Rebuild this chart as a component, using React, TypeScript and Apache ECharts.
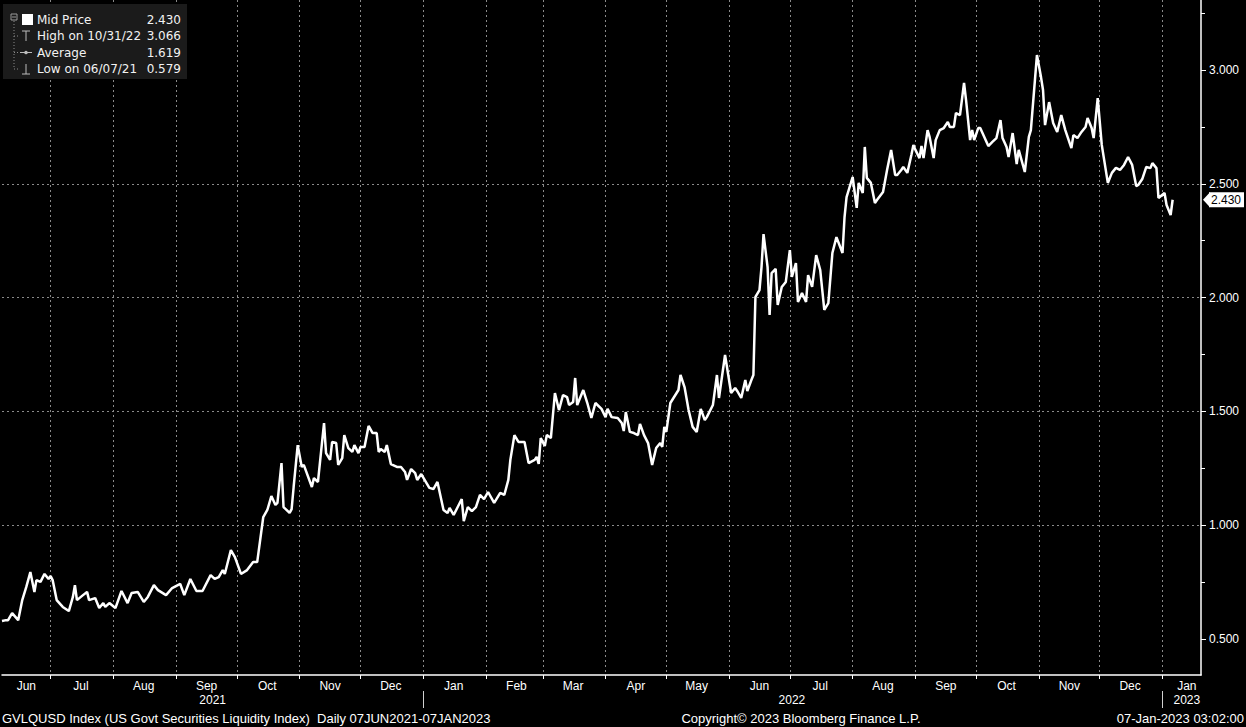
import React, { useEffect, useRef } from 'react';
import * as echarts from 'echarts';

const AXIS_START = '2021-06-07';
const AXIS_END = '2023-01-20';

const dates2021 = [
  '2021-06-07', '2021-06-09', '2021-06-10', '2021-06-12', '2021-06-15', '2021-06-17', '2021-06-19', '2021-06-21', '2021-06-23', '2021-06-24', '2021-06-26', '2021-06-28', '2021-06-30',
  '2021-07-01', '2021-07-02', '2021-07-04', '2021-07-07', '2021-07-10', '2021-07-12', '2021-07-13', '2021-07-14', '2021-07-17', '2021-07-19', '2021-07-20', '2021-07-23', '2021-07-25', '2021-07-27', '2021-07-28', '2021-07-30',
  '2021-08-02', '2021-08-05', '2021-08-08', '2021-08-10', '2021-08-13', '2021-08-16', '2021-08-18', '2021-08-21', '2021-08-23', '2021-08-27', '2021-08-30',
  '2021-09-03', '2021-09-05', '2021-09-08', '2021-09-11', '2021-09-14', '2021-09-18', '2021-09-20', '2021-09-22', '2021-09-24', '2021-09-25', '2021-09-28', '2021-09-30',
  '2021-10-03', '2021-10-06', '2021-10-09', '2021-10-11', '2021-10-14', '2021-10-16', '2021-10-18', '2021-10-20', '2021-10-21', '2021-10-23', '2021-10-24', '2021-10-27', '2021-10-28', '2021-10-29', '2021-10-31',
  '2021-11-02', '2021-11-03', '2021-11-07', '2021-11-08', '2021-11-10', '2021-11-13', '2021-11-14', '2021-11-16', '2021-11-17', '2021-11-19', '2021-11-20', '2021-11-22', '2021-11-23', '2021-11-25', '2021-11-27', '2021-11-28', '2021-11-30',
  '2021-12-01', '2021-12-03', '2021-12-05', '2021-12-07', '2021-12-09', '2021-12-10', '2021-12-11', '2021-12-13', '2021-12-14', '2021-12-16', '2021-12-19', '2021-12-21', '2021-12-23', '2021-12-24', '2021-12-26', '2021-12-28', '2021-12-29', '2021-12-31',
];
const values2021 = [
  0.579, 0.583, 0.583, 0.614, 0.583, 0.671, 0.729, 0.794, 0.707, 0.759, 0.751, 0.786, 0.764,
  0.777, 0.759, 0.671, 0.641, 0.623, 0.685, 0.737, 0.671, 0.693, 0.707, 0.671, 0.680, 0.636, 0.658, 0.641, 0.658,
  0.636, 0.711, 0.658, 0.702, 0.707, 0.663, 0.685, 0.737, 0.715, 0.693, 0.724,
  0.742, 0.693, 0.764, 0.711, 0.711, 0.781, 0.764, 0.772, 0.803, 0.786, 0.891, 0.860,
  0.786, 0.803, 0.838, 0.838, 1.036, 1.067, 1.128, 1.089, 1.098, 1.273, 1.080, 1.054, 1.071, 1.168, 1.352,
  1.256, 1.265, 1.168, 1.207, 1.190, 1.449, 1.317, 1.287, 1.366, 1.361, 1.265, 1.295, 1.396, 1.339, 1.322, 1.352, 1.317,
  1.344, 1.344, 1.436, 1.405, 1.405, 1.322, 1.335, 1.322, 1.352, 1.269, 1.256, 1.256, 1.234, 1.199, 1.247, 1.229, 1.199, 1.225,
];

const dates2022 = [
  '2022-01-04', '2022-01-06', '2022-01-08', '2022-01-11', '2022-01-13', '2022-01-14', '2022-01-16', '2022-01-18', '2022-01-20', '2022-01-21', '2022-01-23', '2022-01-25', '2022-01-27', '2022-01-29', '2022-01-31',
  '2022-02-02', '2022-02-05', '2022-02-08', '2022-02-10', '2022-02-12', '2022-02-13', '2022-02-15', '2022-02-17', '2022-02-20', '2022-02-22', '2022-02-25', '2022-02-26', '2022-02-27', '2022-02-28',
  '2022-03-02', '2022-03-03', '2022-03-05', '2022-03-07', '2022-03-09', '2022-03-11', '2022-03-13', '2022-03-14', '2022-03-16', '2022-03-17', '2022-03-18', '2022-03-21', '2022-03-23', '2022-03-25', '2022-03-27', '2022-03-30',
  '2022-04-01', '2022-04-02', '2022-04-04', '2022-04-07', '2022-04-09', '2022-04-10', '2022-04-11', '2022-04-13', '2022-04-15', '2022-04-17', '2022-04-18', '2022-04-20', '2022-04-22', '2022-04-24', '2022-04-26', '2022-04-28', '2022-04-29', '2022-04-30',
  '2022-05-01', '2022-05-03', '2022-05-07', '2022-05-08', '2022-05-10', '2022-05-12', '2022-05-14', '2022-05-16', '2022-05-18', '2022-05-20', '2022-05-21', '2022-05-24', '2022-05-26', '2022-05-27', '2022-05-30',
  '2022-06-02', '2022-06-04', '2022-06-05', '2022-06-07', '2022-06-09', '2022-06-10', '2022-06-12', '2022-06-13', '2022-06-14', '2022-06-16', '2022-06-17', '2022-06-18', '2022-06-20', '2022-06-21', '2022-06-22', '2022-06-24', '2022-06-25', '2022-06-27', '2022-06-29',
  '2022-07-01', '2022-07-02', '2022-07-04', '2022-07-05', '2022-07-07', '2022-07-09', '2022-07-10', '2022-07-12', '2022-07-14', '2022-07-16', '2022-07-18', '2022-07-20', '2022-07-22', '2022-07-24', '2022-07-27', '2022-07-28', '2022-07-29',
  '2022-08-01', '2022-08-03', '2022-08-04', '2022-08-06', '2022-08-07', '2022-08-08', '2022-08-10', '2022-08-12', '2022-08-13', '2022-08-16', '2022-08-18', '2022-08-20', '2022-08-22', '2022-08-23', '2022-08-25', '2022-08-26', '2022-08-28', '2022-08-30', '2022-08-31',
  '2022-09-01', '2022-09-03', '2022-09-04', '2022-09-05', '2022-09-07', '2022-09-08', '2022-09-10', '2022-09-11', '2022-09-13', '2022-09-15', '2022-09-17', '2022-09-18', '2022-09-20', '2022-09-21', '2022-09-23', '2022-09-25', '2022-09-26', '2022-09-28', '2022-09-29', '2022-09-30',
  '2022-10-02', '2022-10-03', '2022-10-07', '2022-10-09', '2022-10-11', '2022-10-13', '2022-10-14', '2022-10-16', '2022-10-17', '2022-10-19', '2022-10-21', '2022-10-22', '2022-10-25', '2022-10-27', '2022-10-28', '2022-10-30', '2022-10-31',
  '2022-11-02', '2022-11-03', '2022-11-04', '2022-11-06', '2022-11-08', '2022-11-10', '2022-11-12', '2022-11-14', '2022-11-17', '2022-11-18', '2022-11-20', '2022-11-22', '2022-11-24', '2022-11-25', '2022-11-27', '2022-11-28', '2022-11-30',
  '2022-12-02', '2022-12-05', '2022-12-07', '2022-12-09', '2022-12-11', '2022-12-13', '2022-12-15', '2022-12-17', '2022-12-19', '2022-12-20', '2022-12-22', '2022-12-24', '2022-12-26', '2022-12-27', '2022-12-29', '2022-12-30',
];
const values2022 = [
  1.164, 1.159, 1.190, 1.067, 1.054, 1.076, 1.045, 1.080, 1.115, 1.018, 1.080, 1.062, 1.080, 1.133, 1.115,
  1.146, 1.098, 1.142, 1.133, 1.199, 1.287, 1.396, 1.366, 1.366, 1.273, 1.287, 1.300, 1.269, 1.383,
  1.348, 1.396, 1.383, 1.581, 1.506, 1.572, 1.563, 1.528, 1.541, 1.647, 1.528, 1.594, 1.537, 1.471, 1.537, 1.511,
  1.475, 1.511, 1.475, 1.471, 1.449, 1.414, 1.497, 1.410, 1.405, 1.396, 1.445, 1.396, 1.361, 1.265, 1.339, 1.361, 1.344, 1.432,
  1.410, 1.537, 1.594, 1.660, 1.607, 1.506, 1.432, 1.410, 1.511, 1.462, 1.475, 1.528, 1.660, 1.559, 1.748,
  1.581, 1.603, 1.590, 1.559, 1.638, 1.590, 1.638, 1.660, 2.003, 2.033, 2.134, 2.279, 2.134, 1.924, 2.108, 2.126, 1.968, 2.047, 2.069,
  2.209, 2.091, 2.152, 1.981, 2.020, 1.981, 2.099, 2.047, 2.187, 2.121, 1.946, 1.976, 2.196, 2.266, 2.196, 2.354, 2.442,
  2.530, 2.394, 2.504, 2.460, 2.662, 2.526, 2.504, 2.416, 2.429, 2.464, 2.561, 2.649, 2.539, 2.539, 2.561, 2.574, 2.548, 2.627, 2.671,
  2.649, 2.613, 2.666, 2.613, 2.736, 2.706, 2.613, 2.692, 2.736, 2.745, 2.772, 2.750, 2.750, 2.811, 2.802, 2.943, 2.868, 2.692, 2.736, 2.692,
  2.745, 2.745, 2.666, 2.684, 2.701, 2.780, 2.701, 2.662, 2.618, 2.723, 2.587, 2.649, 2.552, 2.706, 2.736, 2.956, 3.066,
  2.969, 2.912, 2.758, 2.859, 2.767, 2.728, 2.802, 2.736, 2.657, 2.714, 2.701, 2.728, 2.750, 2.789, 2.745, 2.701, 2.877,
  2.671, 2.504, 2.548, 2.570, 2.561, 2.583, 2.618, 2.583, 2.490, 2.495, 2.521, 2.574, 2.569, 2.591, 2.569, 2.438,
];

const dates2023 = ['2023-01-02', '2023-01-03', '2023-01-05', '2023-01-06'];
const values2023 = [2.460, 2.407, 2.363, 2.430];

const Y_MIN = 0.342;
const Y_MAX = 3.3076;
const yTicks = [0.5, 1.0, 1.5, 2.0, 2.5, 3.0];
const yMinorTicks = [0.75, 1.25, 1.75, 2.25, 2.75, 3.25];

const MONTHS = ['Jan', 'Feb', 'Mar', 'Apr', 'May', 'Jun', 'Jul', 'Aug', 'Sep', 'Oct', 'Nov', 'Dec'];
const FIRST_MONTH_LABEL = '2021-06-19';
const LAST_MONTH_LABEL = '2023-01-13';
const yearLabels: Record<string, string> = { '2021-09-19': '2021', '2022-07-02': '2022', '2023-01-13': '2023' };

const legendLabels = ['Mid Price', 'High on 10/31/22', 'Average', 'Low on 06/07/21'];
const legendValues = ['2.430', '3.066', '1.619', '0.579'];
const LAST_PRICE = 2.43;
const LAST_PRICE_TEXT = '2.430';

const footerLeft = 'GVLQUSD Index (US Govt Securities Liquidity Index)  Daily 07JUN2021-07JAN2023';
const footerCenter = 'Copyright\u00A9 2023 Bloomberg Finance L.P.';
const footerRight = '07-Jan-2023 03:02:00';

const AX_FONT = '"Liberation Sans", Arial, sans-serif';
const LEG_FONT = '"DejaVu Sans", sans-serif';

function buildDays(start: string, end: string): string[] {
  const out: string[] = [];
  const d = new Date(start + 'T00:00:00Z');
  const e = new Date(end + 'T00:00:00Z');
  while (d.getTime() <= e.getTime()) {
    out.push(d.toISOString().slice(0, 10));
    d.setUTCDate(d.getUTCDate() + 1);
  }
  return out;
}

function isMonthLabel(s: string): boolean {
  if (s === FIRST_MONTH_LABEL || s === LAST_MONTH_LABEL) return true;
  if (s.startsWith('2021-06') || s.startsWith('2023-01')) return false;
  return s.endsWith('-16');
}

function txt(x: number, y: number, text: string, font: string, align: string, color = '#ffffff') {
  return {
    type: 'text',
    x,
    y,
    silent: true,
    style: {
      text,
      font,
      fill: color,
      align,
      textAlign: align,
      verticalAlign: 'middle',
      textVerticalAlign: 'middle',
    },
  };
}

function line(x1: number, y1: number, x2: number, y2: number, color: string, dash?: number[]) {
  return {
    type: 'line',
    silent: true,
    shape: { x1, y1, x2, y2 },
    style: { stroke: color, lineWidth: 1, lineDash: dash },
  };
}

export default function App() {
  const ref = useRef<HTMLDivElement>(null);

  useEffect(() => {
    if (!ref.current) return;
    const chart = echarts.init(ref.current, undefined, { renderer: 'svg' });

    const days = buildDays(AXIS_START, AXIS_END);
    const priceMap = new Map<string, number>();
    [[dates2021, values2021], [dates2022, values2022], [dates2023, values2023]].forEach(([ds, vs]: any) => {
      ds.forEach((d: string, i: number) => priceMap.set(d, vs[i]));
    });
    const seriesData = days.map((d) => (priceMap.has(d) ? priceMap.get(d)! : null));

    const gridLine = { color: '#8a8a8a', type: [2, 3] as number[], width: 1 };

    chart.setOption({
      animation: false,
      backgroundColor: '#000000',
      grid: { left: 2, right: 45, top: 0, bottom: 52, containLabel: false },
      xAxis: [
        {
          type: 'category',
          data: days,
          boundaryGap: false,
          axisLine: { show: true, lineStyle: { color: '#ffffff', width: 1.5 } },
          axisTick: {
            show: true,
            interval: (i: number) => days[i].endsWith('-01'),
            length: 4,
            lineStyle: { color: '#ffffff' },
          },
          axisLabel: {
            show: true,
            interval: (i: number) => isMonthLabel(days[i]),
            formatter: (v: string) => MONTHS[parseInt(v.slice(5, 7), 10) - 1],
            color: '#ffffff',
            fontSize: 12,
            fontFamily: AX_FONT,
            margin: 5,
          },
          splitLine: {
            show: true,
            interval: (i: number) => days[i].endsWith('-01'),
            lineStyle: gridLine,
          },
        },
        {
          type: 'category',
          data: days,
          boundaryGap: false,
          position: 'bottom',
          offset: 16,
          axisLine: { show: false },
          axisTick: {
            show: true,
            interval: (i: number) => days[i].endsWith('-01-01'),
            length: 17,
            lineStyle: { color: '#d0d0d0' },
          },
          axisLabel: {
            show: true,
            interval: (i: number) => !!yearLabels[days[i]],
            formatter: (v: string) => yearLabels[v] || '',
            color: '#ffffff',
            fontSize: 12,
            fontFamily: AX_FONT,
            margin: 3,
          },
          splitLine: { show: false },
        },
      ],
      yAxis: [
        {
          type: 'value',
          position: 'right',
          min: Y_MIN,
          max: Y_MAX,
          axisLine: { show: true, lineStyle: { color: '#ffffff', width: 1.5 } },
          axisTick: { show: true, customValues: yTicks, length: 5, lineStyle: { color: '#ffffff' } },
          axisLabel: {
            customValues: yTicks,
            formatter: (v: number) => v.toFixed(3),
            color: '#ffffff',
            fontSize: 12,
            fontFamily: AX_FONT,
            margin: 8,
          },
          splitLine: { show: true, lineStyle: gridLine, showMinLine: false, showMaxLine: false },
        },
        {
          type: 'value',
          position: 'right',
          min: Y_MIN,
          max: Y_MAX,
          axisLine: { show: false },
          axisTick: { show: true, customValues: yMinorTicks, length: 4, lineStyle: { color: '#ffffff' } },
          axisLabel: { show: false },
          splitLine: { show: false },
        },
      ],
      series: [
        {
          type: 'line',
          name: 'Mid Price',
          xAxisIndex: 0,
          yAxisIndex: 0,
          data: seriesData,
          connectNulls: true,
          showSymbol: false,
          symbol: 'none',
          lineStyle: { color: '#ffffff', width: 2.5 },
          itemStyle: { color: '#ffffff' },
        },
      ],
    });

    const yLast = chart.convertToPixel({ yAxisIndex: 0 }, LAST_PRICE) as number;

    const rowY = [19.5, 36, 52.5, 69];
    const legend: any[] = [
      { type: 'rect', silent: true, shape: { x: 3, y: 4, width: 184, height: 75 }, style: { fill: '#1b1b1b' } },
      { type: 'rect', silent: true, shape: { x: 11, y: 14, width: 6, height: 6 }, style: { fill: 'none', stroke: '#9a9a9a', lineWidth: 1 } },
      line(12, 17, 16, 17, '#9a9a9a'),
      line(14, 21, 14, rowY[3], '#8a8a8a', [1, 2]),
      line(14, rowY[1], 20, rowY[1], '#8a8a8a', [1, 2]),
      line(14, rowY[2], 20, rowY[2], '#8a8a8a', [1, 2]),
      line(14, rowY[3], 20, rowY[3], '#8a8a8a', [1, 2]),
      { type: 'rect', silent: true, shape: { x: 22, y: 14, width: 11, height: 11 }, style: { fill: '#ffffff' } },
      line(22, rowY[1] - 5, 30, rowY[1] - 5, '#bdbdbd'),
      line(26, rowY[1] - 5, 26, rowY[1] + 5, '#bdbdbd'),
      line(20, rowY[2], 32, rowY[2], '#bdbdbd'),
      { type: 'circle', silent: true, shape: { cx: 26, cy: rowY[2], r: 1.8 }, style: { fill: '#bdbdbd' } },
      line(26, rowY[3] - 5, 26, rowY[3] + 5, '#bdbdbd'),
      line(22, rowY[3] + 5, 30, rowY[3] + 5, '#bdbdbd'),
    ];
    legendLabels.forEach((l, i) => {
      legend.push(txt(37, rowY[i], l, `12px ${LEG_FONT}`, 'left', '#f2f2f2'));
      legend.push(txt(181, rowY[i], legendValues[i], `12px ${LEG_FONT}`, 'right', '#f2f2f2'));
    });

    const footer = [
      txt(2, 718, footerLeft, `13px ${AX_FONT}`, 'left'),
      txt(801, 718, footerCenter, `13px ${AX_FONT}`, 'center'),
      txt(1244, 718, footerRight, `13px ${AX_FONT}`, 'right'),
    ];

    const tag = [
      {
        type: 'polygon',
        silent: true,
        shape: { points: [[1203, yLast], [1210, yLast - 7.5], [1210, yLast + 7.5]] },
        style: { fill: '#ffffff' },
      },
      {
        type: 'rect',
        silent: true,
        shape: { x: 1209, y: yLast - 7.5, width: 35, height: 15 },
        style: { fill: '#ffffff' },
      },
      txt(1211, yLast + 0.5, LAST_PRICE_TEXT, `12px ${AX_FONT}`, 'left', '#000000'),
    ];

    chart.setOption({ graphic: [...legend, ...footer, ...tag] });

    return () => {
      chart.dispose();
    };
  }, []);

  return <div ref={ref} style={{ position: 'absolute', left: 0, top: 0, width: 1246, height: 727 }} />;
}
